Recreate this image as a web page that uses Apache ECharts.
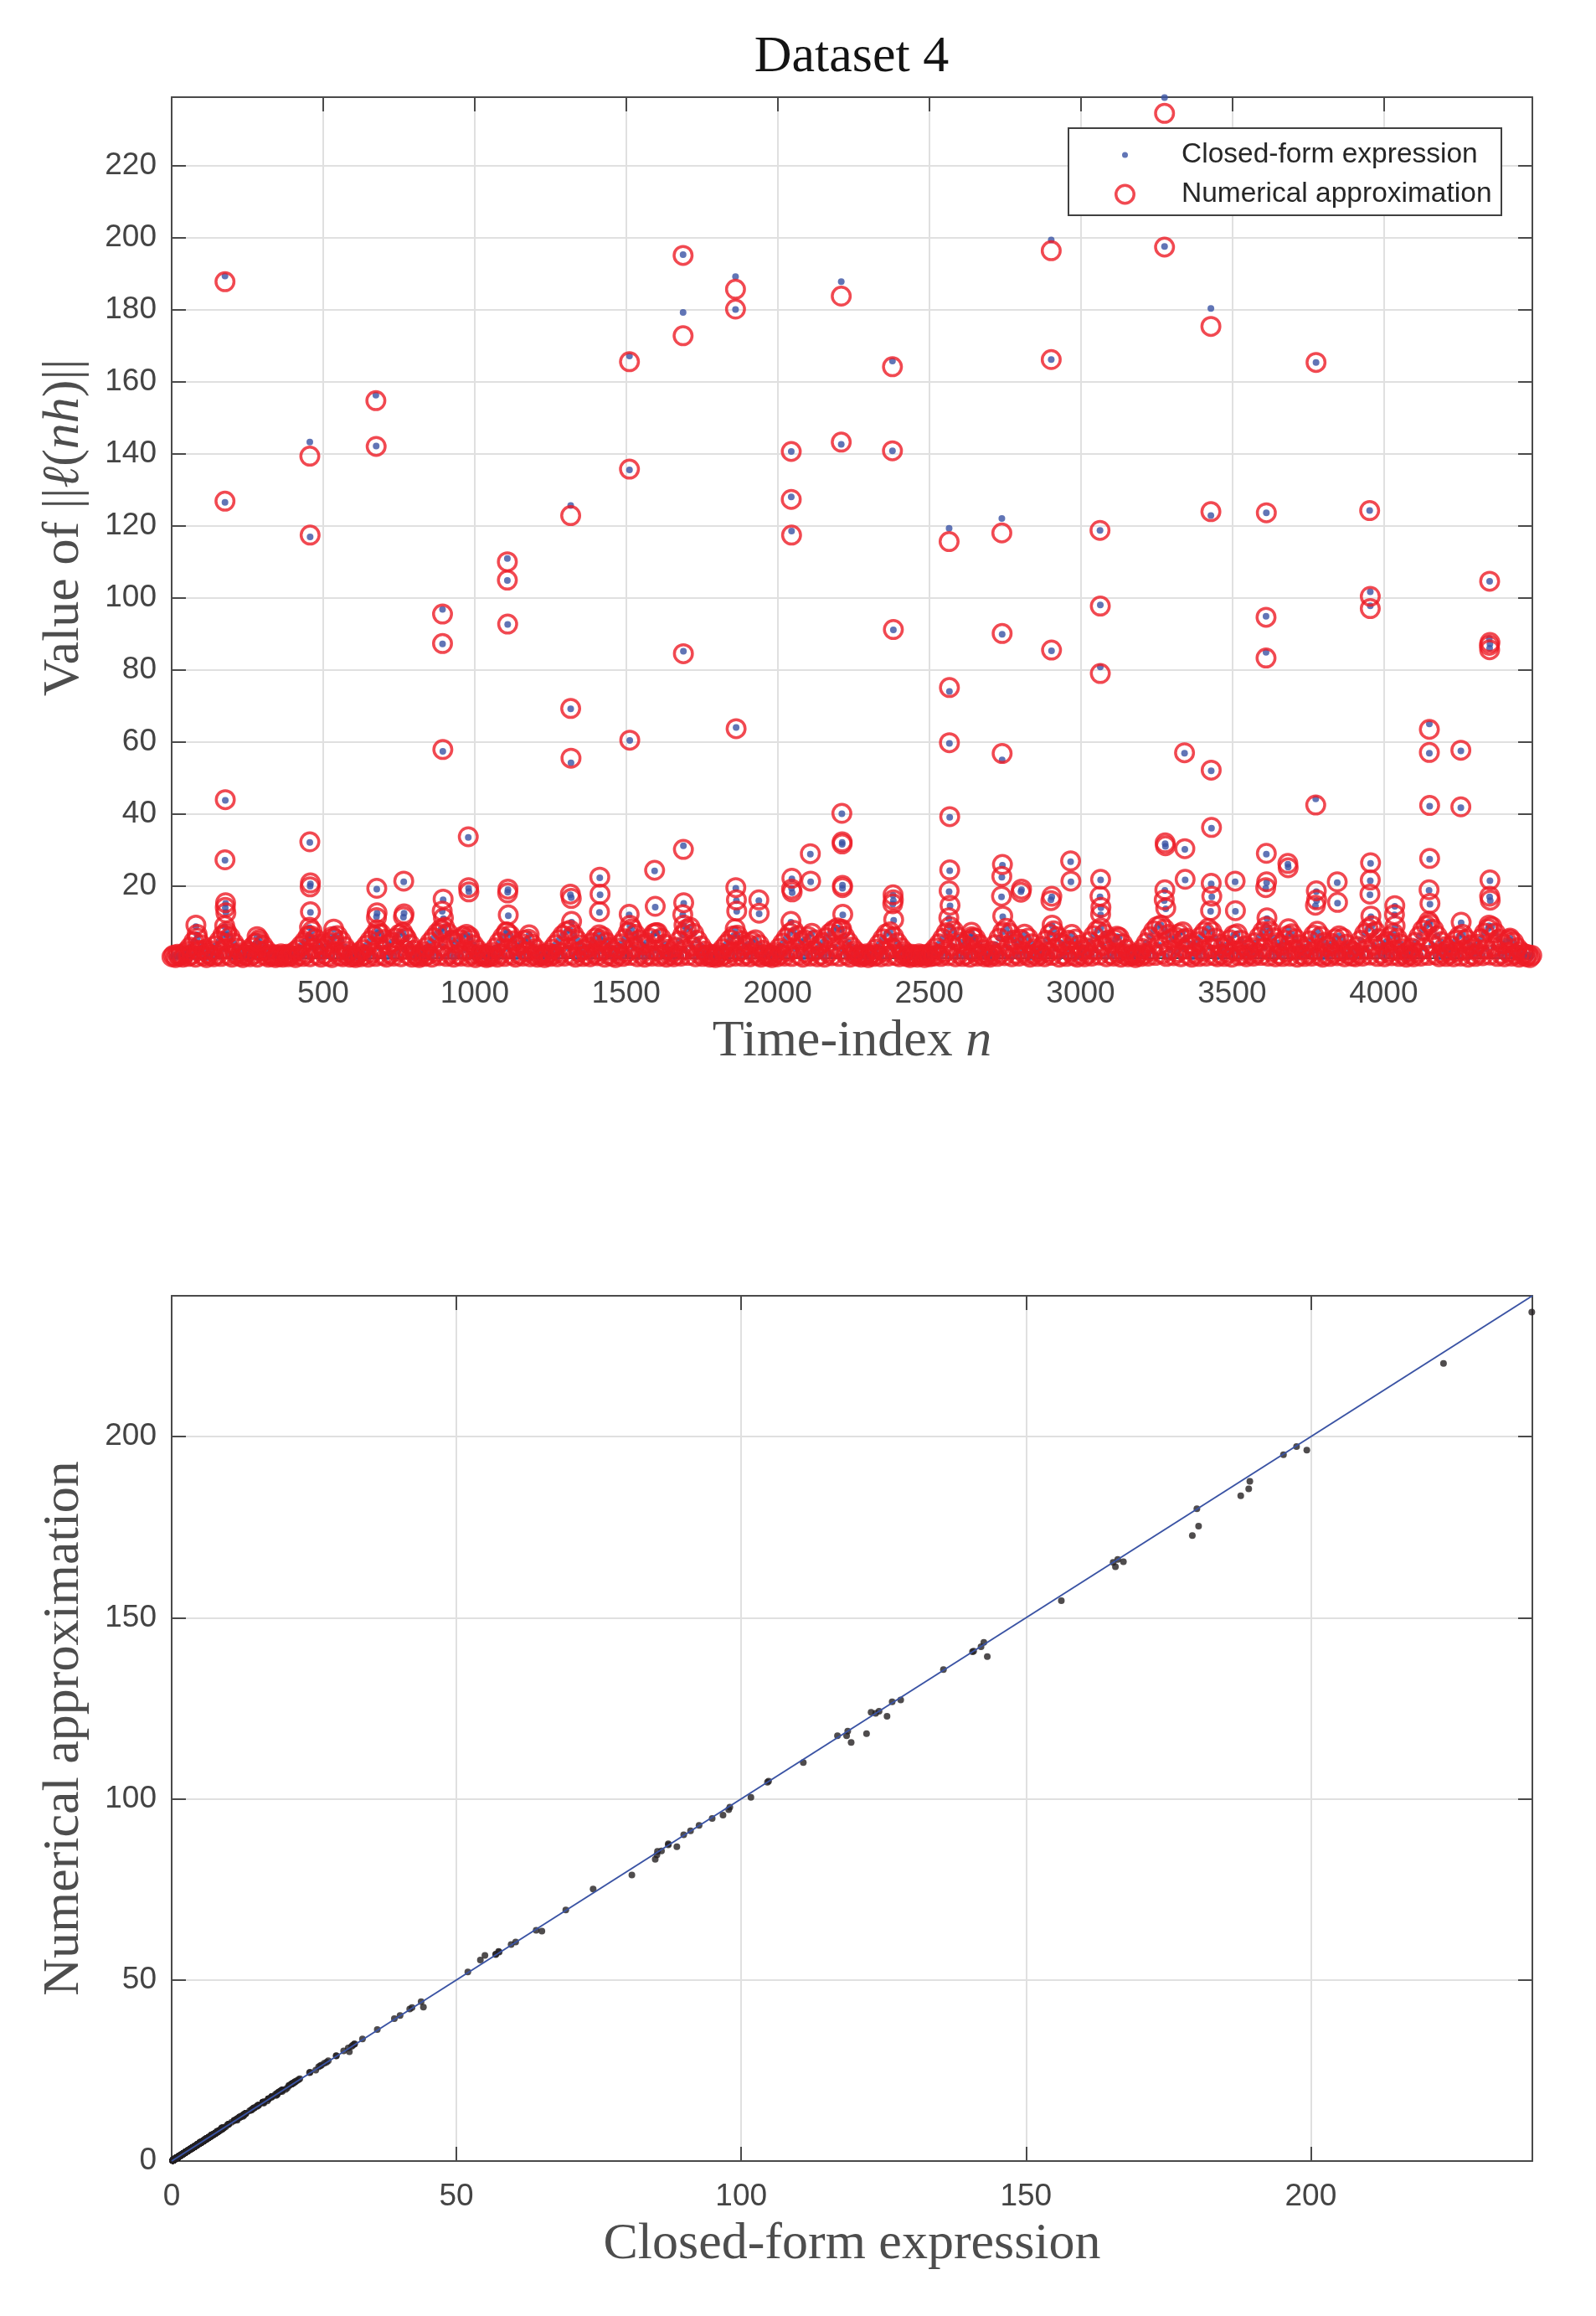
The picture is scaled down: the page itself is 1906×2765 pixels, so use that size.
<!DOCTYPE html>
<html>
<head>
<meta charset="utf-8">
<title>Dataset 4</title>
<script src="https://cdn.jsdelivr.net/npm/echarts@6/dist/echarts.min.js"></script>
<style>
  html, body { margin: 0; padding: 0; background: #fff; }
  #chart { width: 1906px; height: 2765px; }
</style>
</head>
<body>
<div id="chart"></div>
<script>
// length of the time series and common axis limit of the comparison plot
var nMax = 4491;
var valueMax = 238.9;

// the quiet part of the series, one sample every baseStep indices (both methods agree here)
var baseStart = 1;
var baseStep = 6;
var baseValues = [
    0.4, 0.9, 0.2, 1.1, 0.6, 1.0, 0.3, 1.2, 1.9, 0.5, 3.1, 1.0, 4.6, 0.3, 5.6, 2.2, 3.8, 0.7, 2.4, 0.2, 1.3, 0.8, 2.1, 0.4, 3.5,
    1.0, 4.8, 0.5, 6.4, 2.6, 7.4, 0.9, 5.9, 0.3, 4.2, 1.2, 2.8, 0.6, 1.5, 0.2, 1.0, 0.7, 1.9, 0.4, 3.0, 1.1, 4.1, 0.3, 5.2, 2.0,
    3.6, 0.8, 2.2, 0.3, 1.1, 0.6, 1.0, 0.2, 0.9, 0.5, 1.2, 0.3, 0.8, 1.1, 0.4, 1.0, 0.7, 1.6, 0.2, 2.4, 0.9, 3.5, 0.5, 4.7, 1.3,
    6.2, 0.4, 7.6, 2.8, 5.4, 0.9, 3.9, 0.3, 2.6, 1.1, 3.4, 0.6, 4.5, 0.2, 5.6, 1.8, 6.3, 0.7, 4.8, 0.4, 3.2, 1.0, 1.9, 0.3, 1.1,
    0.6, 0.2, 1.0, 1.5, 0.4, 2.4, 0.9, 3.6, 0.3, 4.9, 1.4, 6.3, 0.5, 7.9, 2.9, 6.8, 0.8, 5.2, 0.3, 3.8, 1.2, 4.5, 0.6, 5.6, 1.9,
    6.6, 0.4, 7.2, 2.4, 5.5, 0.9, 3.8, 0.3, 2.2, 1.0, 0.6, 0.2, 1.1, 1.8, 0.5, 3.0, 1.0, 4.4, 0.3, 5.7, 1.6, 7.0, 0.7, 8.1, 3.2,
    8.6, 0.5, 6.9, 1.2, 5.0, 0.3, 4.2, 1.0, 5.3, 0.6, 6.1, 2.3, 6.6, 0.4, 5.2, 1.1, 3.7, 0.2, 2.4, 0.8, 1.3, 0.5, 1.0, 0.2, 0.9,
    0.4, 1.6, 0.8, 2.9, 0.3, 4.4, 1.2, 5.9, 0.5, 7.3, 2.7, 6.4, 0.9, 4.8, 0.3, 3.4, 1.1, 4.1, 0.6, 5.0, 1.8, 5.3, 0.4, 3.9, 1.0,
    2.6, 0.3, 1.2, 0.7, 1.0, 0.2, 0.9, 1.4, 0.5, 2.5, 1.1, 3.8, 0.4, 5.1, 1.5, 6.4, 0.6, 7.4, 2.8, 7.8, 0.9, 6.5, 0.3, 5.0, 1.7,
    3.7, 0.5, 2.4, 1.0, 3.1, 0.4, 4.3, 1.3, 5.6, 0.7, 6.5, 2.1, 5.9, 0.3, 4.4, 1.0, 3.0, 0.6, 1.9, 0.2, 2.8, 1.1, 4.0, 0.5, 5.4,
    1.6, 7.2, 0.8, 8.2, 2.9, 6.6, 0.4, 5.1, 1.2, 3.7, 0.3, 4.3, 1.0, 5.5, 0.6, 6.8, 2.2, 7.1, 0.5, 5.6, 1.1, 3.9, 0.3, 2.5, 0.9,
    1.7, 0.4, 3.1, 1.0, 4.8, 0.6, 6.5, 2.4, 8.0, 0.8, 8.6, 3.3, 6.9, 0.4, 5.0, 1.2, 3.4, 0.5, 2.0, 0.9, 1.1, 0.3, 1.0, 0.6, 0.2,
    0.9, 1.5, 0.4, 2.6, 1.0, 3.9, 0.3, 5.1, 1.7, 6.2, 0.6, 6.4, 2.0, 4.9, 0.5, 3.4, 1.1, 3.9, 0.4, 4.6, 1.4, 5.1, 0.7, 3.8, 0.3,
    2.2, 0.9, 1.2, 0.5, 1.0, 0.2, 0.8, 1.6, 0.4, 2.8, 1.1, 4.2, 0.6, 5.7, 1.9, 7.0, 0.5, 7.7, 2.6, 6.3, 0.9, 4.6, 0.3, 5.1, 1.4,
    6.0, 0.6, 6.9, 2.1, 5.1, 0.4, 3.6, 1.0, 4.4, 0.3, 5.7, 1.5, 6.9, 0.7, 7.8, 3.0, 8.4, 0.5, 7.9, 2.2, 6.1, 0.9, 4.5, 0.3, 3.1,
    1.2, 2.0, 0.6, 1.1, 0.3, 1.0, 0.7, 1.2, 0.2, 0.9, 1.3, 0.5, 2.5, 1.0, 3.9, 0.4, 5.4, 1.8, 6.8, 0.6, 7.3, 2.9, 6.0, 0.8, 4.3,
    0.4, 2.9, 1.1, 1.8, 0.5, 1.0, 0.2, 1.1, 0.6, 0.9, 0.3, 1.2, 0.7, 1.0, 0.2, 0.8, 1.1, 0.4, 1.7, 0.6, 2.8, 1.0, 4.0, 0.5, 5.5,
    1.6, 7.1, 0.7, 8.8, 3.4, 7.6, 0.4, 5.9, 1.2, 4.4, 0.5, 3.7, 1.0, 4.9, 0.3, 6.0, 1.8, 5.5, 0.6, 3.9, 1.1, 2.4, 0.4, 1.3, 0.8,
    0.3, 2.0, 1.0, 3.8, 0.5, 5.6, 1.4, 7.3, 0.7, 8.3, 3.1, 6.9, 0.4, 5.0, 1.2, 3.9, 0.6, 5.2, 1.7, 6.7, 0.9, 5.6, 0.3, 4.0, 1.1,
    2.6, 0.5, 1.8, 1.1, 3.3, 0.4, 5.0, 1.6, 6.7, 0.8, 7.6, 2.7, 6.0, 0.3, 4.3, 1.0, 3.7, 0.5, 5.0, 1.9, 6.6, 0.7, 5.3, 0.3, 3.6,
    1.0, 2.1, 0.4, 2.9, 1.2, 4.6, 0.6, 6.3, 2.3, 7.7, 0.9, 8.4, 3.5, 6.8, 0.4, 5.0, 1.1, 4.1, 0.6, 5.2, 1.5, 5.8, 0.3, 4.0, 1.0,
    2.5, 0.4, 1.2, 0.7, 1.0, 0.2, 0.9, 1.5, 0.5, 2.7, 1.1, 4.3, 0.6, 6.0, 2.0, 7.6, 0.8, 8.8, 3.6, 9.2, 1.2, 8.1, 0.5, 6.6, 2.3,
    5.2, 0.7, 5.9, 1.6, 6.8, 0.4, 7.3, 2.5, 5.6, 0.9, 4.0, 0.3, 3.4, 1.2, 4.6, 0.5, 6.0, 1.9, 7.3, 0.6, 8.3, 3.0, 7.4, 0.8, 5.6,
    0.4, 4.0, 1.1, 2.9, 0.5, 3.6, 1.4, 5.1, 0.3, 6.4, 2.0, 6.8, 0.7, 5.0, 1.0, 3.4, 0.4, 2.3, 1.2, 2.9, 0.6, 4.3, 1.5, 5.9, 0.8,
    7.4, 2.9, 8.8, 0.6, 7.5, 1.8, 5.7, 0.4, 4.3, 1.1, 3.6, 0.5, 5.0, 1.7, 6.3, 0.6, 6.8, 2.4, 5.4, 0.3, 3.8, 1.0, 2.4, 0.5, 3.2,
    1.2, 4.8, 0.6, 6.4, 2.2, 7.5, 0.8, 6.1, 0.3, 4.4, 1.0, 3.3, 0.5, 4.1, 1.4, 5.4, 0.7, 6.2, 2.0, 5.6, 0.4, 3.9, 1.1, 2.4, 0.6,
    1.8, 0.4, 3.3, 1.2, 5.0, 0.6, 6.8, 2.5, 8.2, 0.9, 9.0, 3.6, 7.4, 0.5, 5.4, 1.3, 3.9, 0.4, 4.6, 1.6, 5.9, 0.7, 6.9, 2.2, 5.5,
    0.5, 3.9, 1.1, 2.6, 0.3, 1.6, 0.9, 2.8, 0.4, 4.4, 1.5, 6.1, 0.6, 7.8, 2.8, 9.0, 0.8, 9.5, 3.9, 8.0, 1.0, 6.2, 0.4, 4.6, 1.3,
    3.2, 0.5, 2.1, 1.2, 3.4, 0.4, 4.9, 1.8, 6.1, 0.6, 6.6, 2.3, 5.2, 0.3, 3.7, 1.0, 2.6, 0.5, 3.9, 1.4, 5.4, 0.7, 7.0, 2.6, 8.2,
    0.9, 8.8, 3.1, 7.0, 0.5, 5.3, 1.2, 4.0, 0.4, 4.8, 1.6, 5.6, 0.6, 4.5, 1.1, 2.9, 0.3, 1.8, 0.9, 1.2, 0.4, 1.0, 0.2, 0.8
];

// the bursts: [time index n, closed-form value, numerical approximation]
var spikes = [
    [80, 8.8, 9.2], [84, 6.5, 6.6],
    [176, 189.3, 187.7], [176, 126.5, 126.8], [177, 43.8, 44.0], [176, 27.2, 27.3], [178, 15.2, 15.4],
    [177, 14.0, 14.1], [179, 12.7, 12.6], [175, 8.8, 9.0], [181, 6.5, 6.6],
    [282, 6.0, 6.0], [285, 4.5, 4.6],
    [456, 143.2, 139.3], [457, 116.9, 117.4], [456, 32.1, 32.3], [458, 20.6, 20.9], [457, 20.0, 19.8],
    [458, 12.7, 12.9], [455, 8.5, 8.6], [460, 6.0, 6.2],
    [535, 8.0, 8.1], [530, 6.0, 6.0],
    [674, 156.2, 154.7], [675, 142.1, 142.0], [677, 19.2, 19.4], [678, 12.5, 12.6], [676, 11.5, 11.3], [680, 7.0, 7.0],
    [766, 21.2, 21.4], [767, 12.5, 12.3], [765, 11.4, 11.5], [770, 6.0, 6.1],
    [894, 96.8, 95.5], [894, 87.2, 87.3], [895, 57.4, 57.9], [896, 16.2, 16.4], [893, 13.0, 13.1],
    [897, 11.0, 11.2], [892, 7.5, 7.6],
    [979, 33.5, 33.7], [980, 19.4, 19.6], [981, 18.5, 18.4], [983, 6.0, 6.0],
    [1108, 110.9, 110.0], [1108, 104.8, 104.9], [1109, 92.6, 92.7], [1110, 19.0, 19.2], [1109, 18.3, 18.1],
    [1111, 11.8, 12.0], [1107, 7.0, 7.2],
    [1180, 6.5, 6.5],
    [1317, 125.6, 122.8], [1317, 69.2, 69.3], [1318, 54.2, 55.5], [1316, 17.6, 17.8], [1319, 16.8, 16.6], [1320, 10.0, 10.2],
    [1413, 22.3, 22.5], [1414, 17.6, 17.8], [1412, 12.7, 12.9], [1416, 5.0, 5.1],
    [1511, 167.1, 165.5], [1511, 135.5, 135.7], [1512, 60.4, 60.5], [1510, 12.0, 12.2], [1513, 9.0, 9.1],
    [1594, 24.2, 24.4], [1596, 14.2, 14.4], [1598, 7.0, 7.1],
    [1688, 195.2, 195.0], [1688, 179.2, 172.7], [1689, 85.2, 84.5], [1689, 31.2, 30.2], [1690, 15.2, 15.4],
    [1687, 12.0, 12.1], [1691, 9.0, 9.2],
    [1861, 189.1, 185.6], [1861, 180.0, 180.1], [1863, 64.0, 63.7], [1862, 19.4, 19.6], [1864, 16.0, 16.2],
    [1865, 13.0, 13.1], [1860, 8.0, 8.2],
    [1938, 16.0, 16.2], [1939, 12.3, 12.5],
    [2045, 140.6, 140.6], [2045, 128.0, 127.3], [2046, 118.5, 117.4], [2047, 22.0, 22.2], [2046, 19.4, 19.2],
    [2048, 18.2, 18.4], [2044, 10.0, 10.2],
    [2108, 28.9, 29.0], [2109, 21.2, 21.4],
    [2210, 187.7, 183.7], [2210, 142.6, 143.2], [2212, 40.1, 40.2], [2213, 32.1, 32.3], [2213, 31.6, 31.7],
    [2214, 20.3, 20.2], [2214, 19.4, 19.6], [2215, 12.0, 12.2], [2211, 8.0, 8.1],
    [2379, 165.7, 164.1], [2379, 140.8, 140.8], [2382, 91.1, 91.2], [2381, 17.5, 17.6], [2382, 16.0, 16.2],
    [2380, 15.0, 15.1], [2383, 10.5, 10.7],
    [2566, 119.3, 115.6], [2567, 74.0, 75.1], [2567, 59.6, 59.8], [2568, 39.1, 39.3], [2568, 24.3, 24.5],
    [2566, 18.5, 18.7], [2569, 14.5, 14.7], [2565, 11.0, 11.2],
    [2640, 7.0, 7.2], [2645, 5.5, 5.6],
    [2740, 122.0, 118.0], [2741, 89.9, 90.1], [2741, 55.0, 56.8], [2742, 25.8, 26.0], [2740, 22.5, 22.7],
    [2739, 17.0, 17.2], [2743, 11.5, 11.7],
    [2805, 19.0, 19.2], [2803, 18.5, 18.3],
    [2903, 199.3, 196.3], [2903, 166.1, 166.1], [2904, 85.3, 85.5], [2905, 17.0, 17.2], [2902, 16.2, 16.0], [2906, 9.0, 9.2],
    [2967, 26.8, 27.0], [2968, 21.2, 21.4],
    [3064, 118.7, 118.7], [3065, 98.0, 97.7], [3065, 80.8, 79.0], [3066, 21.7, 21.9], [3064, 17.0, 17.2],
    [3067, 14.0, 14.1], [3066, 12.0, 12.2],
    [3120, 6.0, 6.1],
    [3277, 238.8, 234.4], [3278, 223.3, 220.2], [3277, 197.5, 197.3], [3279, 31.8, 32.0], [3280, 31.0, 31.2],
    [3278, 18.8, 19.0], [3276, 16.0, 16.2], [3281, 13.7, 13.9],
    [3343, 56.9, 57.0], [3344, 30.2, 30.4], [3345, 21.7, 21.9], [3342, 5.0, 5.2],
    [3430, 180.3, 175.3], [3430, 122.8, 123.9], [3431, 52.0, 52.2], [3432, 36.1, 36.3], [3431, 20.6, 20.8],
    [3433, 17.0, 17.2], [3429, 13.0, 13.2],
    [3510, 21.2, 21.4], [3511, 13.0, 13.2],
    [3613, 123.6, 123.6], [3612, 94.9, 94.6], [3612, 84.9, 83.3], [3613, 28.9, 29.1], [3614, 21.0, 21.2],
    [3611, 19.4, 19.6], [3615, 11.0, 11.2],
    [3684, 26.1, 26.3], [3685, 25.3, 25.1], [3686, 8.0, 8.2],
    [3777, 165.3, 165.3], [3776, 44.2, 42.5], [3778, 18.5, 18.7], [3779, 16.0, 16.2], [3775, 14.5, 14.7],
    [3847, 21.0, 21.2], [3848, 15.3, 15.5],
    [3954, 124.2, 124.2], [3956, 101.7, 100.4], [3956, 97.8, 97.0], [3957, 26.3, 26.5], [3956, 21.5, 21.7],
    [3955, 17.6, 17.8], [3958, 11.5, 11.7],
    [4036, 12.0, 12.1], [4037, 14.4, 14.6], [4038, 8.8, 9.0],
    [4151, 65.0, 63.5], [4151, 56.9, 57.1], [4152, 42.2, 42.4], [4152, 27.5, 27.7], [4150, 18.8, 19.0],
    [4153, 15.0, 15.2], [4149, 10.0, 10.2],
    [4255, 57.5, 57.7], [4255, 41.8, 42.0], [4256, 9.8, 10.0],
    [4350, 104.6, 104.6], [4349, 88.7, 86.8], [4351, 87.2, 87.6], [4350, 86.0, 85.6], [4351, 21.5, 21.7],
    [4350, 17.0, 17.2], [4352, 16.0, 16.1], [4348, 9.0, 9.2],
    [4416, 5.0, 5.2]
];

var closedName = 'Closed-form expression';
var numericName = 'Numerical approximation';

var blue = '#3a53a4';
var red = '#ee1c25';
var frameColor = '#4a4a4a';
var tickTextColor = '#444444';
var gridColor = '#e0e0e0';
var sansFont = '"Liberation Sans", Arial, sans-serif';
var serifFont = '"Liberation Serif", "DejaVu Serif", serif';

var ringSize = 21.5;
var ringWidth = 3.5;

// build the three point sets
var closedData = [], numericData = [], pairData = [];
baseValues.forEach(function (v, k) {
    var n = baseStart + k * baseStep;
    closedData.push([n, v]);
    numericData.push([n, v]);
    pairData.push([v, v]);
});
spikes.forEach(function (s) {
    closedData.push([s[0], s[1]]);
    numericData.push([s[0], s[2]]);
    pairData.push([s[1], s[2]]);
});

var nameStyle = {
    fontFamily: serifFont,
    fontSize: 62,
    color: '#4d4d4d',
    rich: {
        r: { fontFamily: serifFont, fontSize: 62, color: '#4d4d4d' },
        i: { fontFamily: serifFont, fontSize: 62, color: '#4d4d4d', fontStyle: 'italic' }
    }
};

function mainAxis(gridIndex, position, max, interval, showMin, name) {
    return {
        gridIndex: gridIndex,
        type: 'value',
        position: position,
        min: 0,
        max: max,
        interval: interval,
        axisLine: { show: true, onZero: false, lineStyle: { color: frameColor, width: 2 } },
        axisTick: { show: true, inside: true, length: 17, lineStyle: { color: frameColor, width: 2 } },
        axisLabel: {
            show: true,
            margin: (position === 'bottom') ? 24 : 18,
            fontFamily: sansFont,
            fontSize: 37,
            color: tickTextColor,
            showMinLabel: showMin,
            showMaxLabel: false,
            formatter: function (v) { return String(v); }
        },
        splitLine: { show: true, lineStyle: { color: gridColor, width: 2 } },
        name: name,
        nameLocation: 'middle',
        nameGap: (position === 'bottom') ? 69 : 97,
        nameRotate: (position === 'left') ? 90 : 0,
        nameTextStyle: nameStyle
    };
}

// the box edges on top and right, ticks only
function mirrorAxis(gridIndex, position, max, interval) {
    return {
        gridIndex: gridIndex,
        type: 'value',
        position: position,
        min: 0,
        max: max,
        interval: interval,
        axisLine: { show: true, onZero: false, lineStyle: { color: frameColor, width: 2 } },
        axisTick: { show: true, inside: true, length: 17, lineStyle: { color: frameColor, width: 2 } },
        axisLabel: { show: false },
        splitLine: { show: false }
    };
}

var chart = echarts.init(document.getElementById('chart'));

var option = {
    animation: false,
    backgroundColor: '#ffffff',
    grid: [
        { left: 205, top: 116, width: 1625, height: 1028, containLabel: false, outerBoundsMode: 'none' },
        { left: 205, top: 1547, width: 1625, height: 1033, containLabel: false, outerBoundsMode: 'none' }
    ],
    xAxis: [
        mainAxis(0, 'bottom', nMax, 500, false, '{r|Time-index }{i|n}'),
        mirrorAxis(0, 'top', nMax, 500),
        mainAxis(1, 'bottom', valueMax, 50, true, 'Closed-form expression'),
        mirrorAxis(1, 'top', valueMax, 50)
    ],
    yAxis: [
        mainAxis(0, 'left', valueMax, 20, false, '{r|Value of ||}{i|\u2113}{r|(}{i|nh}{r|)||}'),
        mirrorAxis(0, 'right', valueMax, 20),
        mainAxis(1, 'left', valueMax, 50, true, 'Numerical approximation'),
        mirrorAxis(1, 'right', valueMax, 50)
    ],
    // the content of a legend is shifted to its drawn icon, so left is the icon's left edge
    legend: [
        {
            z: 20,
            left: 1340,
            top: 168,
            padding: 0,
            orient: 'vertical',
            selectedMode: false,
            itemWidth: 125,
            itemHeight: 7,
            textStyle: { fontFamily: sansFont, fontSize: 33.5, color: '#262626' },
            data: [{ name: closedName, icon: 'circle', itemStyle: { color: blue, borderWidth: 0 } }]
        },
        {
            z: 20,
            left: 1331,
            top: 215,
            padding: 0,
            orient: 'vertical',
            selectedMode: false,
            itemWidth: 125,
            itemHeight: ringSize,
            textStyle: { fontFamily: sansFont, fontSize: 33.5, color: '#262626' },
            data: [{ name: numericName, icon: 'circle', itemStyle: { color: 'rgba(0,0,0,0)', borderColor: red, borderWidth: ringWidth } }]
        }
    ],
    graphic: [
        {
            type: 'rect',
            z: 10,
            shape: { x: 1276, y: 153, width: 517, height: 104 },
            style: { fill: '#ffffff', stroke: '#404040', lineWidth: 2 }
        },
        {
            type: 'text',
            z: 10,
            x: 1017,
            y: 69,
            style: {
                text: 'Dataset 4',
                align: 'center',
                verticalAlign: 'middle',
                fontFamily: serifFont,
                fontSize: 62,
                fill: '#141414'
            }
        }
    ],
    series: [
        {
            name: closedName,
            type: 'scatter',
            xAxisIndex: 0,
            yAxisIndex: 0,
            symbol: 'circle',
            symbolSize: 8,
            itemStyle: { color: blue },
            silent: true,
            data: closedData
        },
        {
            name: numericName,
            type: 'scatter',
            xAxisIndex: 0,
            yAxisIndex: 0,
            symbol: 'circle',
            symbolSize: ringSize,
            itemStyle: { color: 'rgba(0,0,0,0)', borderColor: red, borderWidth: ringWidth },
            silent: true,
            data: numericData
        },
        {
            name: 'pairs',
            type: 'scatter',
            xAxisIndex: 2,
            yAxisIndex: 2,
            symbol: 'circle',
            symbolSize: 8,
            itemStyle: { color: '#231f20' },
            silent: true,
            data: pairData
        },
        {
            name: 'identity',
            type: 'line',
            xAxisIndex: 2,
            yAxisIndex: 2,
            showSymbol: false,
            symbol: 'none',
            lineStyle: { color: blue, width: 2 },
            silent: true,
            data: [[0, 0], [valueMax, valueMax]]
        }
    ]
};

chart.setOption(option);
</script>
</body>
</html>
